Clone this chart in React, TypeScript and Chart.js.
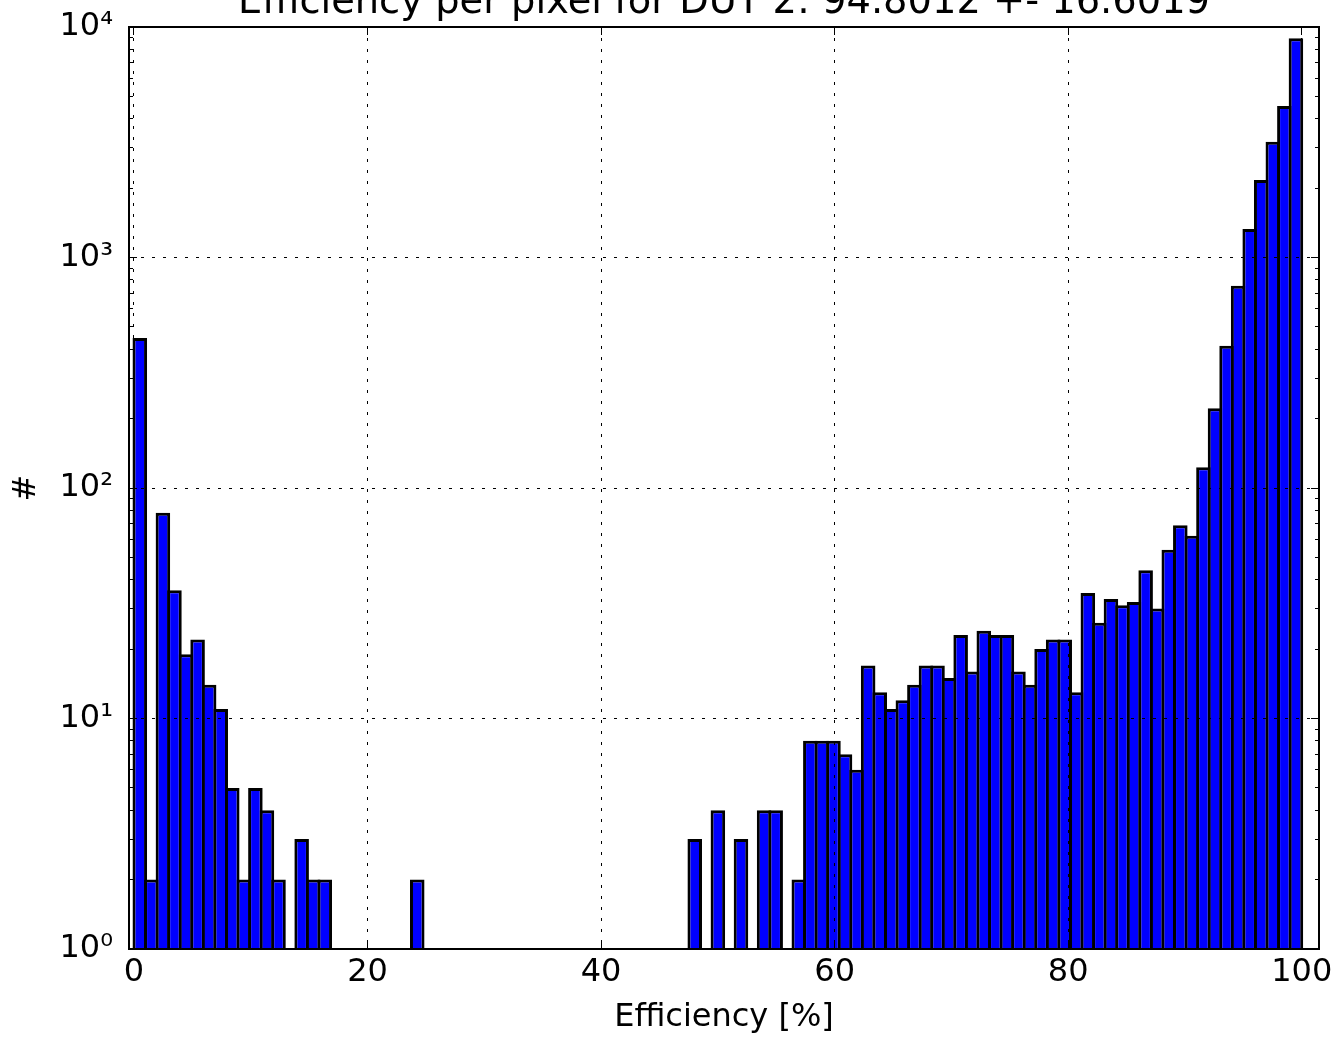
import React, { useEffect, useRef } from "react";
import { Chart, registerables } from "chart.js";

Chart.register(...registerables);

// ---------- data ----------
const titleText = "Efficiency per pixel for DUT 2: 94.8012 +- 16.6019";
const xLabel = "Efficiency [%]";
const yLabel = "#";

// histogram: 101 equal bins spanning 0..100 %
const binRange = [0, 100];
const counts = [
  448, 2, 78, 36, 19, 22, 14, 11, 5, 2,
  5, 4, 2, 0, 3, 2, 2, 0, 0, 0,
  0, 0, 0, 0, 2, 0, 0, 0, 0, 0,
  0, 0, 0, 0, 0, 0, 0, 0, 0, 0,
  0, 0, 0, 0, 0, 0, 0, 0, 3, 0,
  4, 0, 3, 0, 4, 4, 0, 2, 8, 8,
  8, 7, 6, 17, 13, 11, 12, 14, 17, 17,
  15, 23, 16, 24, 23, 23, 16, 14, 20, 22,
  22, 13, 35, 26, 33, 31, 32, 44, 30, 54,
  69, 62, 123, 222, 414, 755, 1329, 2169, 3181, 4542,
  8933,
];

const xTickValues = [0, 20, 40, 60, 80, 100];
const yMajorTicks = [1, 10, 100, 1000, 10000];
const yMinorMultipliers = [2, 3, 4, 5, 6, 7, 8, 9];
const yDecades = [1, 10, 100, 1000];

// ---------- layout / style ----------
const FONT = "'DejaVu Sans', sans-serif";
const SHIFT = 30; // canvas moved up so the title is clipped like the reference
const CANVAS_W = 1335;
const CANVAS_H = 1037 + SHIFT;
const X_MIN = -0.428;
const X_MAX = 101.48;
const Y_MIN = 1;
const Y_MAX = 10000;
const LEFT_W = 129;
const RIGHT_W = 16;
const BOTTOM_H = 88;
const PLOT_TOP = 27 + SHIFT;
const TITLE_SIZE = 38.4;
const TITLE_PAD_TOP = 9.6;
const TOP_AXIS_H = PLOT_TOP - TITLE_PAD_TOP - TITLE_SIZE * 1.2;
const LABEL_SIZE = 32;
const MAJOR_TICK = -8;
const MINOR_TICK = -4;
const BAR_BORDER = 3;

const SUP: Record<string, string> = {
  "0": "\u2070", "1": "\u00b9", "2": "\u00b2", "3": "\u00b3", "4": "\u2074",
  "5": "\u2075", "6": "\u2076", "7": "\u2077", "8": "\u2078", "9": "\u2079",
};

const noPad = (s: any) => {
  s.paddingLeft = 0;
  s.paddingRight = 0;
  s.paddingTop = 0;
  s.paddingBottom = 0;
};

export default function App() {
  const ref = useRef<HTMLCanvasElement>(null);

  useEffect(() => {
    if (!ref.current) return;
    Chart.defaults.font.family = FONT;
    Chart.defaults.color = "#000";

    const nBins = counts.length;
    const binW = (binRange[1] - binRange[0]) / nBins;
    const data = counts.map((c, i) => ({
      x: binRange[0] + (i + 0.5) * binW,
      y: c > 0 ? c : null,
    }));
    const yMinorTicks: number[] = [];
    yDecades.forEach((d) => yMinorMultipliers.forEach((m) => yMinorTicks.push(d * m)));

    const plotW = CANVAS_W - LEFT_W - RIGHT_W;
    const binPx = (binW * plotW) / (X_MAX - X_MIN);
    const barPct = (binPx + BAR_BORDER) / binPx;

    const spine = { display: true, color: "#000", width: 2, z: 1 };
    const noBorder = { display: false };

    const chart = new Chart(ref.current, {
      type: "bar",
      data: {
        datasets: [
          {
            data: data as any,
            backgroundColor: "#0000ff",
            borderColor: "#000",
            borderWidth: BAR_BORDER,
            borderSkipped: "start",
            barPercentage: barPct,
            categoryPercentage: 1,
            xAxisID: "x",
            yAxisID: "y",
          },
        ],
      },
      options: {
        responsive: false,
        animation: false,
        devicePixelRatio: 1,
        events: [],
        layout: { padding: 0 },
        plugins: {
          legend: { display: false },
          tooltip: { enabled: false },
          title: {
            display: true,
            text: titleText,
            fullSize: false,
            color: "#000",
            font: { family: FONT, size: TITLE_SIZE, weight: "normal" },
            padding: { top: TITLE_PAD_TOP, bottom: 0 },
          },
        },
        scales: {
          x: {
            type: "linear",
            display: true,
            position: "bottom",
            min: X_MIN,
            max: X_MAX,
            offset: false,
            afterBuildTicks: (s: any) => {
              s.ticks = xTickValues.map((v) => ({ value: v }));
            },
            afterFit: (s: any) => {
              s.height = BOTTOM_H;
              noPad(s);
            },
            ticks: {
              color: "#000",
              font: { family: FONT, size: LABEL_SIZE },
              padding: 12.5,
              maxRotation: 0,
              autoSkip: false,
              callback: (v: any) => String(v),
            },
            grid: {
              display: true,
              offset: false,
              drawOnChartArea: true,
              color: "#000",
              lineWidth: 1,
              tickLength: MAJOR_TICK,
              tickColor: "#000",
              tickWidth: 1,
              z: 1,
            },
            border: { ...spine, dash: [3, 8] },
            title: {
              display: true,
              text: xLabel,
              color: "#000",
              font: { family: FONT, size: LABEL_SIZE },
              padding: { top: 0, bottom: 0.6 },
            },
          },
          xT: {
            type: "linear",
            display: true,
            position: "top",
            weight: 0,
            min: X_MIN,
            max: X_MAX,
            offset: false,
            afterBuildTicks: (s: any) => {
              s.ticks = xTickValues.map((v) => ({ value: v }));
            },
            afterFit: (s: any) => {
              s.height = TOP_AXIS_H;
              noPad(s);
            },
            ticks: { display: false },
            grid: {
              display: true,
              offset: false,
              drawOnChartArea: false,
              tickLength: MAJOR_TICK,
              tickColor: "#000",
              tickWidth: 1,
              z: 1,
            },
            border: spine,
          },
          y: {
            type: "logarithmic",
            display: true,
            position: "left",
            weight: 1,
            min: Y_MIN,
            max: Y_MAX,
            afterBuildTicks: (s: any) => {
              s.ticks = yMajorTicks.map((v) => ({ value: v, major: true }));
            },
            afterFit: (s: any) => {
              s.width = LEFT_W;
              noPad(s);
            },
            ticks: {
              color: "#000",
              font: { family: FONT, size: LABEL_SIZE },
              padding: 24,
              autoSkip: false,
              callback: (v: any) => {
                const e = String(Math.round(Math.log10(Number(v))));
                return "10" + e.split("").map((ch) => SUP[ch]).join("");
              },
            },
            grid: {
              display: true,
              drawOnChartArea: true,
              color: "#000",
              lineWidth: 1,
              tickLength: MAJOR_TICK,
              tickColor: "#000",
              tickWidth: 1,
              z: 1,
            },
            border: { ...spine, dash: [3, 8] },
            title: {
              display: true,
              text: yLabel,
              color: "#000",
              font: { family: FONT, size: LABEL_SIZE },
              padding: { top: 7.4, bottom: 0 },
            },
          },
          yL2: {
            type: "logarithmic",
            display: true,
            position: "left",
            weight: 0,
            min: Y_MIN,
            max: Y_MAX,
            afterBuildTicks: (s: any) => {
              s.ticks = yMinorTicks.map((v) => ({ value: v }));
            },
            afterFit: (s: any) => {
              s.width = 0;
              noPad(s);
            },
            ticks: { display: false },
            grid: {
              display: true,
              drawOnChartArea: false,
              tickLength: MINOR_TICK,
              tickColor: "#000",
              tickWidth: 1,
              z: 1,
            },
            border: noBorder,
          },
          yR2: {
            type: "logarithmic",
            display: true,
            position: "right",
            weight: 0,
            min: Y_MIN,
            max: Y_MAX,
            afterBuildTicks: (s: any) => {
              s.ticks = yMinorTicks.map((v) => ({ value: v }));
            },
            afterFit: (s: any) => {
              s.width = 0;
              noPad(s);
            },
            ticks: { display: false },
            grid: {
              display: true,
              drawOnChartArea: false,
              tickLength: MINOR_TICK,
              tickColor: "#000",
              tickWidth: 1,
              z: 1,
            },
            border: noBorder,
          },
          yR: {
            type: "logarithmic",
            display: true,
            position: "right",
            weight: 1,
            min: Y_MIN,
            max: Y_MAX,
            afterBuildTicks: (s: any) => {
              s.ticks = yMajorTicks.map((v) => ({ value: v, major: true }));
            },
            afterFit: (s: any) => {
              s.width = RIGHT_W;
              noPad(s);
            },
            ticks: { display: false },
            grid: {
              display: true,
              drawOnChartArea: false,
              tickLength: MAJOR_TICK,
              tickColor: "#000",
              tickWidth: 1,
              z: 1,
            },
            border: spine,
          },
        } as any,
      },
    });
    return () => chart.destroy();
  }, []);

  return (
    <div
      style={{
        position: "absolute",
        left: 0,
        top: -SHIFT,
        width: CANVAS_W,
        height: CANVAS_H,
        background: "#fff",
      }}
    >
      <canvas
        ref={ref}
        width={CANVAS_W}
        height={CANVAS_H}
        style={{ display: "block", width: CANVAS_W, height: CANVAS_H }}
      />
    </div>
  );
}
